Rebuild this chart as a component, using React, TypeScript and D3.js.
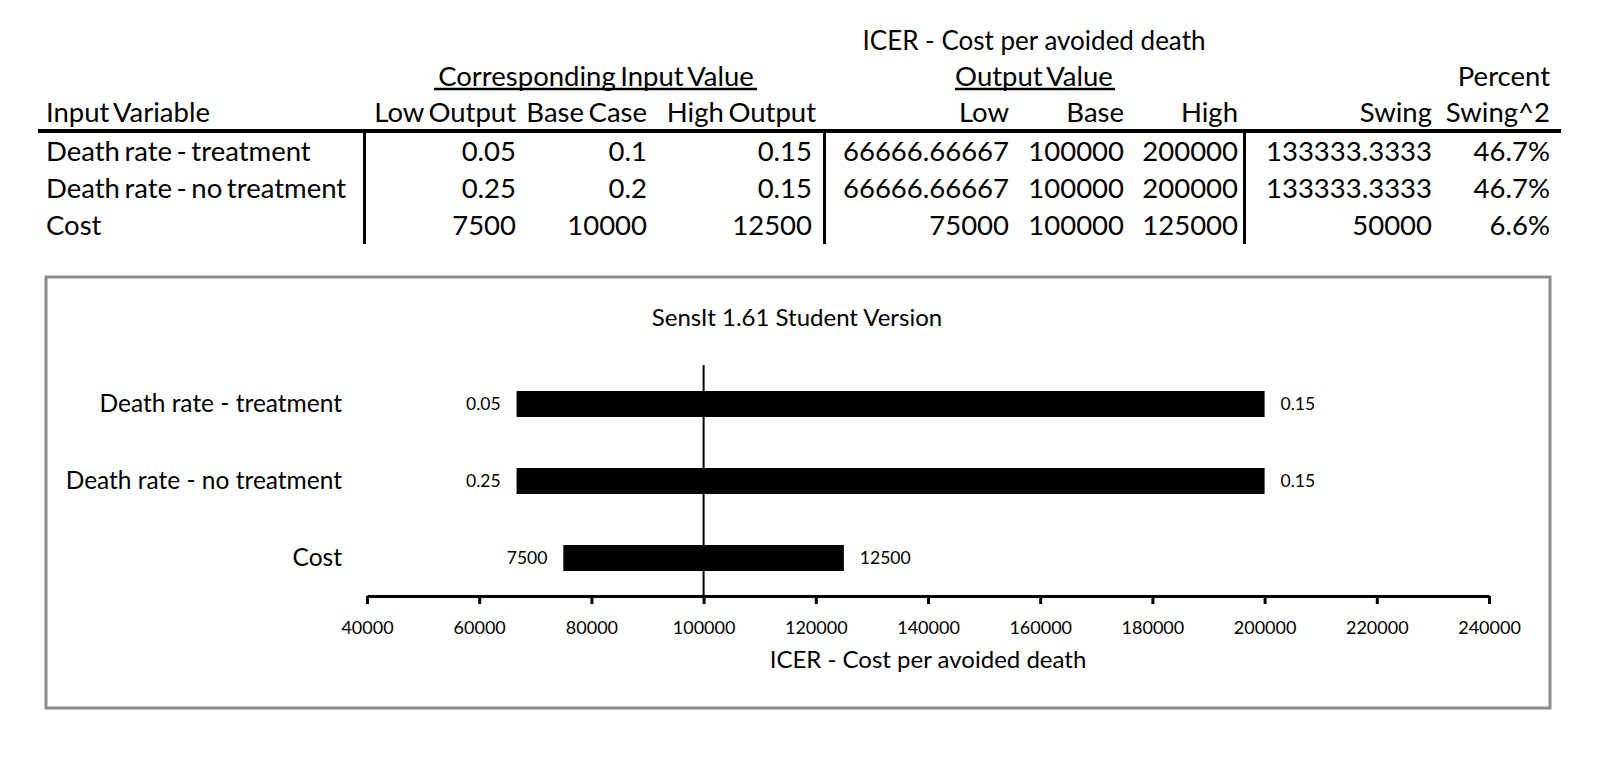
import { useEffect, useRef } from 'react';
import * as d3 from 'd3';

// table + tornado data
const variables = ["Death rate - treatment", "Death rate - no treatment", "Cost"];
const inputLow = [0.05, 0.25, 7500];
const inputBase = [0.1, 0.2, 10000];
const inputHigh = [0.15, 0.15, 12500];
const outputLow = [66666.66667, 66666.66667, 75000];
const outputBase = [100000, 100000, 100000];
const outputHigh = [200000, 200000, 125000];
const swing = [133333.3333, 133333.3333, 50000];
const percentSwing2 = [0.467, 0.467, 0.066];
const xTicks = [40000, 60000, 80000, 100000, 120000, 140000, 160000, 180000, 200000, 220000, 240000];
const baseCase = 100000;

const FONT = "Lato, 'Open Sans', sans-serif";
const W = 1610;
const H = 764;

// Excel-ish "General" format
const general = (v: number) => String(+v.toPrecision(10));
const pct = d3.format(".1%");

export default function App() {
    const axisRef = useRef<SVGGElement>(null);

    const x = d3.scaleLinear().domain([40000, 240000]).range([367, 1489]);
    const y = d3.scalePoint<string>().domain(variables).range([404, 558]);
    const barH = 26;
    const axisY = 596;

    useEffect(() => {
        if (!axisRef.current) return;
        const g = d3.select(axisRef.current);
        g.selectAll("*").remove();
        g.call(d3.axisBottom(x)
            .tickValues(xTicks)
            .tickSize(8)
            .tickSizeOuter(0)
            .tickPadding(17)
            .tickFormat(d => String(d)));
        g.select(".domain").attr("stroke", "#000").attr("stroke-width", 3);
        g.selectAll(".tick line").attr("stroke", "#000").attr("stroke-width", 3);
        g.selectAll(".tick text")
            .attr("fill", "#000")
            .style("font-family", FONT)
            .style("font-size", "18px");
    }, []);

    // table columns: right edge and values
    const rowY = [152, 189, 226];
    const cols = [
        { right: 516, head: "Low Output", vals: inputLow.map(general) },
        { right: 647, head: "Base Case", vals: inputBase.map(general) },
        { right: 816, head: "High Output", vals: inputHigh.map(general) },
        { right: 1009, head: "Low", vals: outputLow.map(general) },
        { right: 1124, head: "Base", vals: outputBase.map(general) },
        { right: 1238, head: "High", vals: outputHigh.map(general) },
        { right: 1432, head: "Swing", vals: swing.map(general) },
        { right: 1550, head: "Swing^2", vals: percentSwing2.map(pct) },
    ];
    const tfs = 27.5;
    const bl = (cy: number, fs: number) => cy + fs * 0.34;

    return (
        <div style={{ position: "fixed", left: 0, top: 0 }}>
            <svg width={W} height={H} style={{ display: "block", background: "#fff" }} fontFamily={FONT}>
                {/* table */}
                <g fontSize={tfs} fill="#000" wordSpacing={-2.5}>
                    <text x={1034} y={bl(41, 26)} textAnchor="middle" fontSize={26} wordSpacing={0}>ICER - Cost per avoided death</text>
                    <text x={596} y={bl(77, tfs)} textAnchor="middle">Corresponding Input Value</text>
                    <line x1={434} x2={757} y1={89} y2={89} stroke="#000" strokeWidth={2.5} />
                    <text x={1034} y={bl(77, tfs)} textAnchor="middle">Output Value</text>
                    <line x1={955} x2={1115} y1={89} y2={89} stroke="#000" strokeWidth={2.5} />
                    <text x={1550} y={bl(77, tfs)} textAnchor="end">Percent</text>
                    <text x={46} y={bl(113, tfs)}>Input Variable</text>
                    {cols.map(c => (
                        <text key={c.head} x={c.right} y={bl(113, tfs)} textAnchor="end">{c.head}</text>
                    ))}
                    <line x1={38} x2={1561} y1={131} y2={131} stroke="#000" strokeWidth={4} />
                    {variables.map((v, i) => (
                        <text key={v} x={46} y={bl(rowY[i], tfs)}>{v}</text>
                    ))}
                    {cols.map(c => c.vals.map((v, i) => (
                        <text key={c.head + i} x={c.right - (c.head === "High Output" ? 4 : 0)} y={bl(rowY[i], tfs)} textAnchor="end">{v}</text>
                    )))}
                    {[364.5, 824.5, 1244.5].map(vx => (
                        <line key={vx} x1={vx} x2={vx} y1={133} y2={244} stroke="#000" strokeWidth={3} />
                    ))}
                </g>

                {/* chart frame */}
                <rect x={46} y={277} width={1504} height={431} fill="#fff" stroke="#8c8c8c" strokeWidth={3} />
                <text x={797} y={bl(318, 24)} textAnchor="middle" fontSize={24}>SensIt 1.61 Student Version</text>

                {/* bars */}
                {variables.map((v, i) => (
                    <g key={v}>
                        <text x={342} y={bl(y(v)!, 24.5)} textAnchor="end" fontSize={24.5}>{v}</text>
                        <rect
                            x={x(outputLow[i])}
                            y={y(v)! - barH / 2}
                            width={x(outputHigh[i]) - x(outputLow[i])}
                            height={barH}
                            fill="#000"
                        />
                        <text x={x(outputLow[i]) - 16} y={bl(y(v)!, 17.5)} textAnchor="end" fontSize={17.5}>{general(inputLow[i])}</text>
                        <text x={x(outputHigh[i]) + 16} y={bl(y(v)!, 17.5)} fontSize={17.5}>{general(inputHigh[i])}</text>
                    </g>
                ))}
                <line x1={x(baseCase)} x2={x(baseCase)} y1={365} y2={axisY} stroke="#000" strokeWidth={2} />
                <g ref={axisRef} transform={`translate(0,${axisY})`} />
                <text x={(x(40000) + x(240000)) / 2} y={bl(660, 24)} textAnchor="middle" fontSize={24}>ICER - Cost per avoided death</text>
            </svg>
        </div>
    );
}
